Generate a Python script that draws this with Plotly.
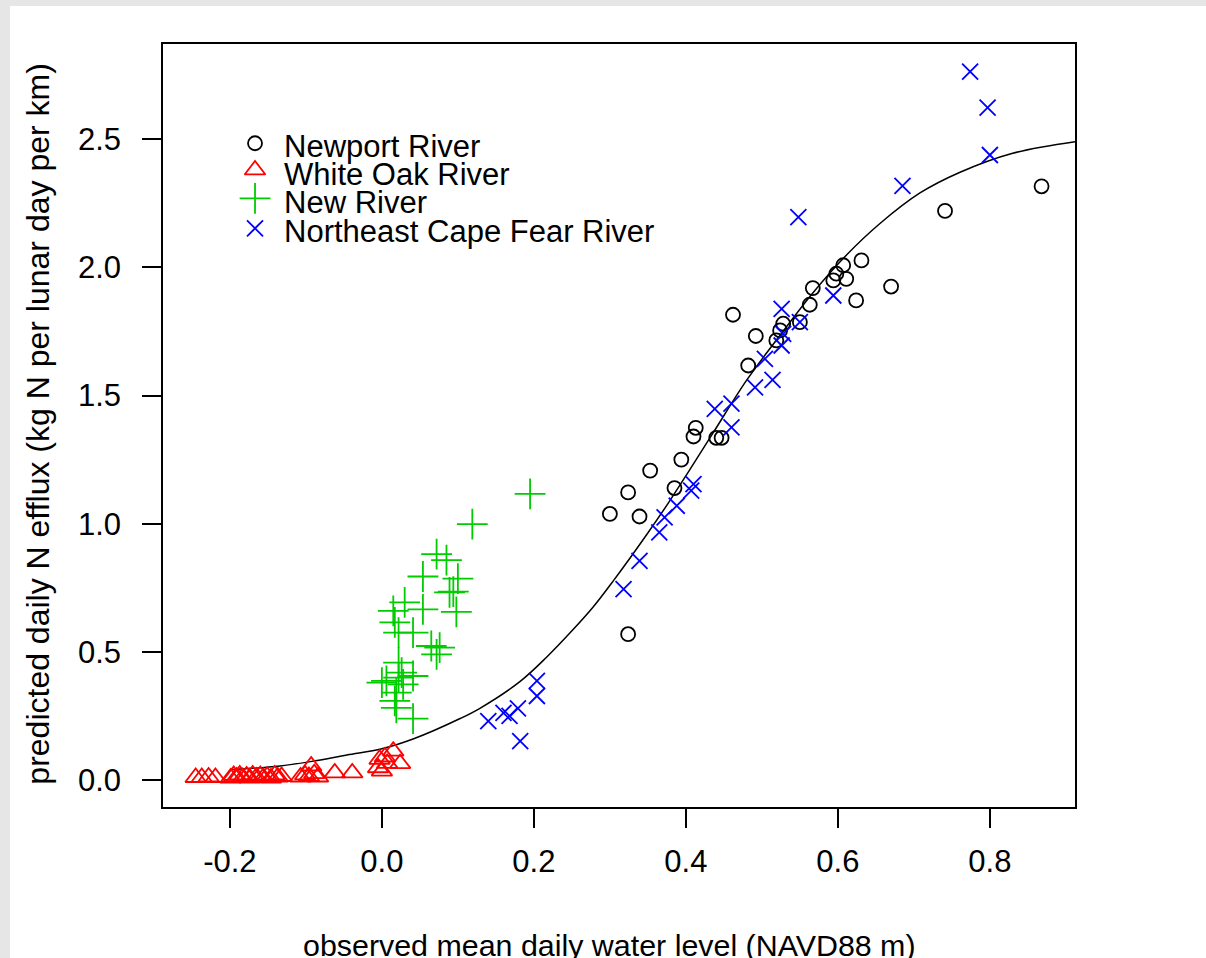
import plotly.graph_objects as go

# ---------------- data ----------------
newport_x = [0.300, 0.324, 0.339, 0.353, 0.324, 0.385, 0.394, 0.413, 0.410, 0.440,
             0.447, 0.462, 0.482, 0.492, 0.519, 0.524, 0.528, 0.550, 0.563, 0.567,
             0.594, 0.598, 0.607, 0.611, 0.624, 0.631, 0.670, 0.741, 0.868]
newport_y = [1.038, 1.122, 1.028, 1.207, 0.569, 1.139, 1.250, 1.374, 1.340, 1.335,
             1.335, 1.815, 1.617, 1.732, 1.715, 1.754, 1.780, 1.786, 1.854, 1.919,
             1.949, 1.975, 2.008, 1.955, 1.871, 2.027, 1.925, 2.220, 2.316]

whiteoak_x = [-0.245, -0.237, -0.228, -0.219, -0.199, -0.195, -0.191, -0.187, -0.183,
              -0.178, -0.174, -0.170, -0.165, -0.160, -0.156, -0.151, -0.146, -0.141,
              -0.137, -0.132, -0.107, -0.101, -0.096, -0.093, -0.089, -0.084, -0.062,
              -0.039, -0.005, -0.003, 0.000, 0.007, 0.015, 0.024, 0.004]
whiteoak_y = [0.010, 0.010, 0.012, 0.010, 0.008, 0.018, 0.012, 0.020, 0.010, 0.016,
              0.008, 0.020, 0.012, 0.018, 0.010, 0.015, 0.008, 0.020, 0.012, 0.014,
              0.012, 0.020, 0.014, 0.055, 0.025, 0.012, 0.028, 0.028, 0.048, 0.081,
              0.035, 0.065, 0.113, 0.064, 0.090]

newriver_x = [0.195, 0.119, 0.072, 0.085, 0.054, 0.100, 0.089, 0.094, 0.098, 0.030,
              0.015, 0.054, 0.017, 0.022, 0.041, 0.065, 0.076, 0.072, 0.022, 0.006,
              0.000, 0.041, 0.022, 0.028, 0.019, 0.017, 0.019, 0.041, 0.026]
newriver_y = [1.116, 0.998, 0.881, 0.858, 0.794, 0.786, 0.732, 0.735, 0.656, 0.693,
              0.660, 0.666, 0.615, 0.575, 0.575, 0.523, 0.517, 0.490, 0.458, 0.387,
              0.380, 0.406, 0.400, 0.373, 0.341, 0.309, 0.282, 0.240, 0.419]

necf_x = [0.140, 0.160, 0.168, 0.179, 0.182, 0.204, 0.204, 0.318, 0.339, 0.365,
          0.372, 0.388, 0.407, 0.410, 0.438, 0.460, 0.460, 0.491, 0.504, 0.514,
          0.526, 0.528, 0.526, 0.550, 0.548, 0.594, 0.685, 0.774, 0.797, 0.800]
necf_y = [0.230, 0.262, 0.250, 0.280, 0.152, 0.387, 0.328, 0.745, 0.855, 0.966,
          1.025, 1.070, 1.129, 1.154, 1.448, 1.376, 1.468, 1.532, 1.643, 1.561,
          1.695, 1.740, 1.838, 1.786, 2.196, 1.890, 2.318, 2.763, 2.623, 2.438]

# fitted curve
curve_x = [-0.200, -0.134, -0.090, -0.046, 0.000, 0.041, 0.103, 0.129, 0.182, 0.217,
           0.251, 0.278, 0.304, 0.349, 0.379, 0.405, 0.436, 0.480, 0.524, 0.567,
           0.612, 0.655, 0.708, 0.760, 0.830, 0.912]
curve_y = [0.040, 0.055, 0.074, 0.098, 0.122, 0.160, 0.240, 0.280, 0.385, 0.480,
           0.585, 0.675, 0.775, 0.960, 1.090, 1.210, 1.355, 1.560, 1.735, 1.900,
           2.050, 2.170, 2.290, 2.370, 2.445, 2.490]

x_ticks = [-0.2, 0.0, 0.2, 0.4, 0.6, 0.8]
x_ticklabels = ["-0.2", "0.0", "0.2", "0.4", "0.6", "0.8"]
y_ticks = [0.0, 0.5, 1.0, 1.5, 2.0, 2.5]
y_ticklabels = ["0.0", "0.5", "1.0", "1.5", "2.0", "2.5"]

legend_labels = ["Newport River", "White Oak River", "New River", "Northeast Cape Fear River"]
legend_symbols = ["circle-open", "triangle-up-open", "cross-thin-open", "x-thin-open"]
legend_colors = ["black", "red", "#00cc00", "blue"]
legend_sizes = [14, 18, 22, 16]

x_title = "observed mean daily water level (NAVD88 m)"
y_title = "predicted daily N efflux (kg N per lunar day per km)"

# ---------------- figure ----------------
FONT = "Arial, Liberation Sans, sans-serif"
fig = go.Figure()

fig.add_trace(go.Scatter(x=curve_x, y=curve_y, mode="lines", line_shape="spline",
                         line=dict(color="black", width=1.5), hoverinfo="skip"))

series = [(newport_x, newport_y), (whiteoak_x, whiteoak_y),
          (newriver_x, newriver_y), (necf_x, necf_y)]
for (sx, sy), name, sym, col, sz in zip(series, legend_labels, legend_symbols,
                                         legend_colors, legend_sizes):
    fig.add_trace(go.Scatter(x=sx, y=sy, mode="markers", name=name,
                             marker=dict(symbol=sym, size=sz, color=col,
                                         line=dict(width=1.8, color=col))))

# manual legend (R style, tight rows) on an invisible overlay axis
leg_marker_y = [0.8699, 0.8349, 0.7978, 0.7584]
leg_text_y = [0.8663, 0.8296, 0.7929, 0.7549]
for lab, sym, col, sz, my in zip(legend_labels, legend_symbols, legend_colors,
                                  legend_sizes, leg_marker_y):
    fig.add_trace(go.Scatter(x=[0.1009], y=[my], mode="markers", xaxis="x2", yaxis="y2",
                             marker=dict(symbol=sym, size=sz, color=col,
                                         line=dict(width=1.8, color=col)),
                             hoverinfo="skip"))
annotations = []
for lab, ty in zip(legend_labels, leg_text_y):
    annotations.append(dict(x=0.1305, y=ty, xref="paper", yref="paper", text=lab,
                            showarrow=False, xanchor="left", yanchor="middle",
                            font=dict(family=FONT, size=31, color="black")))
annotations.append(dict(x=0.490, y=-0.181, xref="paper", yref="paper", text=x_title,
                        showarrow=False, xanchor="center", yanchor="middle",
                        font=dict(family=FONT, size=30.4, color="black")))
annotations.append(dict(x=-0.138, y=0.5026, xref="paper", yref="paper", text=y_title,
                        showarrow=False, xanchor="center", yanchor="middle", textangle=-90,
                        font=dict(family=FONT, size=32, color="black")))

axis_common = dict(showgrid=False, zeroline=False, showline=True, mirror=True,
                   linecolor="black", linewidth=1.5, ticks="outside", ticklen=19,
                   tickwidth=1.5, tickcolor="black",
                   tickfont=dict(family=FONT, size=31, color="black"))

fig.update_layout(
    width=1206, height=958,
    margin=dict(l=163, r=131, t=44, b=151),
    paper_bgcolor="#e6e6e6", plot_bgcolor="white",
    showlegend=False,
    xaxis=dict(range=[-0.288, 0.912], tickvals=x_ticks, ticktext=x_ticklabels,
               ticklabelstandoff=7, **axis_common),
    yaxis=dict(range=[-0.105, 2.871], tickvals=y_ticks, ticktext=y_ticklabels,
               ticklabelstandoff=15, **axis_common),
    xaxis2=dict(overlaying="x", range=[0, 1], visible=False),
    yaxis2=dict(overlaying="y", range=[0, 1], visible=False),
    annotations=annotations,
    shapes=[dict(type="rect", xref="paper", yref="paper",
                 x0=(10 - 163) / 912, x1=(1300 - 163) / 912,
                 y0=(807 - 1000) / 763, y1=(807 - 6) / 763,
                 fillcolor="white", line=dict(width=0), layer="below")],
)

fig.write_html("out.html", config={"displayModeBar": False},
               post_script="document.body.style.margin='0';"
                           "document.body.style.overflow='hidden';")
